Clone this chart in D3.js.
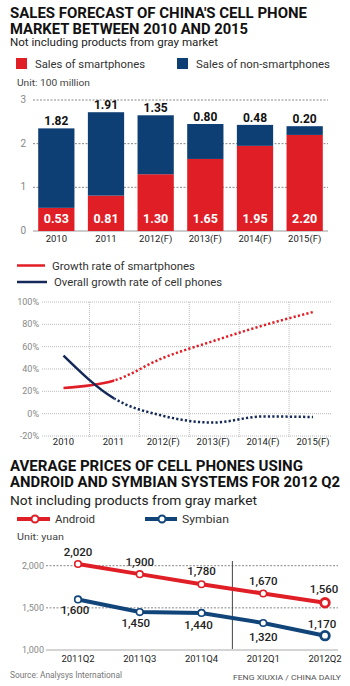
<!DOCTYPE html>
<html>
<head>
<meta charset="utf-8">
<script src="https://cdn.jsdelivr.net/npm/d3@7"></script>
<style>
  body { margin: 0; background: #fff; }
  svg { display: block; font-family: Roboto, "Liberation Sans", Arial, sans-serif; }
  .title { font-weight: 700; font-size: 14px; fill: #111; }
  .tick-y { font-size: 9px; fill: #888; }
  .tick-x { font-size: 9.5px; fill: #222; }
</style>
</head>
<body>
<div id="chart"></div>
<script>
// ---- data ----
const years = ["2010", "2011", "2012(F)", "2013(F)", "2014(F)", "2015(F)"];
const smartSales = [0.53, 0.81, 1.30, 1.65, 1.95, 2.20];
const otherSales = [1.82, 1.91, 1.35, 0.80, 0.48, 0.20];
const barTicks = [0, 1, 2, 3];

const smartGrowth = [23, 29.5, 50, 65, 79, 91];
const overallGrowth = [52, 14, -2, -8, -2.5, -3];
const growthTicks = [-20, 0, 20, 40, 60, 80, 100];

const quarters = ["2011Q2", "2011Q3", "2011Q4", "2012Q1", "2012Q2"];
const android = [2020, 1900, 1780, 1670, 1560];
const symbian = [1600, 1450, 1440, 1320, 1170];
const priceTicks = [1000, 1500, 2000];

const red = "#e01e26";
const barBlue = "#0d3f75";
const navy = "#14295a";
const priceBlue = "#11457a";

const svg = d3.select("#chart").append("svg")
    .attr("width", 350)
    .attr("height", 686);

function fitText(sel, x, y, txt, len, cls) {
    return sel.append("text").attr("x", x).attr("y", y).attr("class", cls || null)
        .attr("textLength", len).attr("lengthAdjust", "spacingAndGlyphs").text(txt);
}

// ---- header 1 ----
fitText(svg, 10, 17.5, "SALES FORECAST OF CHINA'S CELL PHONE", 297, "title");
fitText(svg, 10, 34, "MARKET BETWEEN 2010 AND 2015", 238, "title");
fitText(svg, 10, 46, "Not including products from gray market", 208).style("font-size", "11px").attr("fill", "#222");

svg.append("rect").attr("x", 16).attr("y", 58).attr("width", 11).attr("height", 11).attr("fill", red);
fitText(svg, 35, 68, "Sales of smartphones", 110).style("font-size", "11px").attr("fill", "#333");
svg.append("rect").attr("x", 177).attr("y", 58).attr("width", 11).attr("height", 11).attr("fill", barBlue);
fitText(svg, 196, 68, "Sales of non-smartphones", 134).style("font-size", "11px").attr("fill", "#333");
fitText(svg, 17, 86, "Unit: 100 million", 73).style("font-size", "9px").attr("fill", "#444");

// ---- bar chart ----
const x1 = d3.scaleBand().domain(years).range([31.5, 329.5]).paddingInner(0.27).paddingOuter(0.135);
const y1 = d3.scaleLinear().domain([0, 3]).range([231, 100]);

const g1 = svg.append("g");
g1.selectAll(".grid1").data(barTicks).join("line")
    .attr("x1", 33).attr("x2", 328)
    .attr("y1", d => y1(d)).attr("y2", d => y1(d))
    .attr("stroke", d => d === 0 ? "#999" : "#555")
    .attr("stroke-width", d => d === 0 ? 1 : 0.7)
    .attr("stroke-dasharray", d => d === 0 ? null : "2,1.5");
g1.selectAll(".ty1").data(barTicks).join("text")
    .attr("class", "tick-y").attr("x", 26).attr("y", d => y1(d) + 3)
    .attr("text-anchor", "end").style("font-size", "10px").text(d => d);

g1.selectAll(".smart").data(years).join("rect")
    .attr("x", d => x1(d)).attr("width", x1.bandwidth())
    .attr("y", (d, i) => y1(smartSales[i]))
    .attr("height", (d, i) => y1(0) - y1(smartSales[i]))
    .attr("fill", red);
g1.selectAll(".other").data(years).join("rect")
    .attr("x", d => x1(d)).attr("width", x1.bandwidth())
    .attr("y", (d, i) => y1(smartSales[i] + otherSales[i]))
    .attr("height", (d, i) => y1(smartSales[i]) - y1(smartSales[i] + otherSales[i]))
    .attr("fill", barBlue);

g1.selectAll(".lblTop").data(years).join("text")
    .attr("x", d => x1(d) + x1.bandwidth() / 2)
    .attr("y", (d, i) => y1(smartSales[i] + otherSales[i]) - 3)
    .attr("text-anchor", "middle").style("font-size", "12px").style("font-weight", 700)
    .attr("fill", "#111").text((d, i) => otherSales[i].toFixed(2));
g1.selectAll(".lblIn").data(years).join("text")
    .attr("x", d => x1(d) + x1.bandwidth() / 2)
    .attr("y", 223)
    .attr("text-anchor", "middle").style("font-size", "12.5px").style("font-weight", 700)
    .attr("fill", "#fff").text((d, i) => smartSales[i].toFixed(2));
g1.selectAll(".tx1").data(years).join("text")
    .attr("class", "tick-x").attr("x", d => x1(d) + x1.bandwidth() / 2).attr("y", 242)
    .attr("text-anchor", "middle").text(d => d);

// ---- growth chart ----
svg.append("line").attr("x1", 17).attr("x2", 45).attr("y1", 265.5).attr("y2", 265.5)
    .attr("stroke", red).attr("stroke-width", 2.5);
fitText(svg, 52, 270, "Growth rate of smartphones", 143).style("font-size", "11px").attr("fill", "#333");
svg.append("line").attr("x1", 17).attr("x2", 47).attr("y1", 282).attr("y2", 282)
    .attr("stroke", navy).attr("stroke-width", 2.5);
fitText(svg, 54, 286, "Overall growth rate of cell phones", 168).style("font-size", "11px").attr("fill", "#333");

const x2 = d3.scalePoint().domain(years).range([63.5, 313]);
const y2 = d3.scaleLinear().domain([-20, 100]).range([436, 302]);
const g2 = svg.append("g");

g2.selectAll(".gh").data(growthTicks).join("line")
    .attr("x1", 42).attr("x2", 331)
    .attr("y1", d => y2(d)).attr("y2", d => y2(d))
    .attr("stroke", "#aaa").attr("stroke-width", 0.8).attr("stroke-dasharray", "1,1");
const mids = years.slice(1).map((d, i) => (x2(years[i]) + x2(d)) / 2 + 1);
g2.selectAll(".gv").data(mids).join("line")
    .attr("x1", d => d).attr("x2", d => d)
    .attr("y1", y2(100)).attr("y2", y2(-20) + 2)
    .attr("stroke", "#aaa").attr("stroke-width", 0.8).attr("stroke-dasharray", "1,1");
g2.selectAll(".ty2").data(growthTicks).join("text")
    .attr("class", "tick-y").attr("x", 39).attr("y", d => y2(d) + 3)
    .attr("text-anchor", "end").text(d => d + "%");
g2.selectAll(".tx2").data(years).join("text")
    .attr("class", "tick-x").attr("x", d => x2(d)).attr("y", 445)
    .attr("text-anchor", "middle").text(d => d);

const defs = svg.append("defs");
const splitX = x2("2011");
defs.append("clipPath").attr("id", "solidPart").append("rect")
    .attr("x", 0).attr("y", 280).attr("width", splitX + 1).attr("height", 180);
defs.append("clipPath").attr("id", "dotPart").append("rect")
    .attr("x", splitX + 1).attr("y", 280).attr("width", 350).attr("height", 180);

const line2 = d3.line().x((d, i) => x2(years[i])).y(d => y2(d)).curve(d3.curveMonotoneX);
[[smartGrowth, red], [overallGrowth, navy]].forEach(([vals, col]) => {
    g2.append("path").attr("d", line2(vals)).attr("fill", "none")
        .attr("stroke", col).attr("stroke-width", 2.5).attr("clip-path", "url(#solidPart)");
    g2.append("path").attr("d", line2(vals)).attr("fill", "none")
        .attr("stroke", col).attr("stroke-width", 2.5).attr("stroke-dasharray", "2.2,2.2")
        .attr("clip-path", "url(#dotPart)");
});

// ---- header 2 ----
fitText(svg, 10, 470.5, "AVERAGE PRICES OF CELL PHONES USING", 293, "title");
fitText(svg, 10, 487, "ANDROID AND SYMBIAN SYSTEMS FOR 2012 Q2", 330, "title");
fitText(svg, 10, 505, "Not including products from gray market", 247).style("font-size", "13px").attr("fill", "#222");

svg.append("line").attr("x1", 17).attr("x2", 50).attr("y1", 519).attr("y2", 519)
    .attr("stroke", red).attr("stroke-width", 4);
svg.append("circle").attr("cx", 35).attr("cy", 519).attr("r", 3.5)
    .attr("fill", "#fff").attr("stroke", red).attr("stroke-width", 2);
fitText(svg, 55, 523, "Android", 40).style("font-size", "11px").attr("fill", "#333");
svg.append("line").attr("x1", 145).attr("x2", 177).attr("y1", 519).attr("y2", 519)
    .attr("stroke", priceBlue).attr("stroke-width", 4);
svg.append("circle").attr("cx", 162).attr("cy", 519).attr("r", 3.5)
    .attr("fill", "#fff").attr("stroke", priceBlue).attr("stroke-width", 2);
fitText(svg, 182, 523, "Symbian", 47).style("font-size", "11px").attr("fill", "#333");
fitText(svg, 17, 540, "Unit: yuan", 47).style("font-size", "9px").attr("fill", "#444");

// ---- price chart ----
const x3 = d3.scalePoint().domain(quarters).range([78, 325]);
const y3 = d3.scaleLinear().domain([1000, 2000]).range([650, 565.7]);
const g3 = svg.append("g");

g3.selectAll(".gp").data(priceTicks).join("line")
    .attr("x1", 46).attr("x2", 338)
    .attr("y1", d => y3(d)).attr("y2", d => y3(d))
    .attr("stroke", d => d === 1000 ? "#aaa" : "#555")
    .attr("stroke-width", d => d === 1000 ? 1 : 0.7)
    .attr("stroke-dasharray", d => d === 1000 ? null : "2,1.5");
g3.selectAll(".ty3").data(priceTicks).join("text")
    .attr("class", "tick-y").attr("x", 44).attr("y", d => y3(d) + 3)
    .attr("text-anchor", "end").text(d => d3.format(",")(d));
const splitQ = (x3("2011Q4") + x3("2012Q1")) / 2;
g3.append("line").attr("x1", splitQ).attr("x2", splitQ)
    .attr("y1", 561).attr("y2", 649).attr("stroke", "#444").attr("stroke-width", 1);
g3.selectAll(".tx3").data(quarters).join("text")
    .attr("class", "tick-x").attr("x", d => x3(d)).attr("y", 662)
    .attr("text-anchor", "middle").text(d => d);

const line3 = d3.line().x((d, i) => x3(quarters[i])).y(d => y3(d));
const last = quarters.length - 1;
[[android, red], [symbian, priceBlue]].forEach(([vals, col]) => {
    g3.append("path").attr("d", line3(vals)).attr("fill", "none")
        .attr("stroke", col).attr("stroke-width", 4);
    g3.selectAll(null).data(vals).join("circle")
        .attr("cx", (d, i) => x3(quarters[i])).attr("cy", d => y3(d))
        .attr("r", (d, i) => i === last ? 4.3 : 3.3)
        .attr("fill", "#fff").attr("stroke", col)
        .attr("stroke-width", (d, i) => i === last ? 2.8 : 1.6);
});

const fmt = d3.format(",");
const andDy = [-8, -8, -9, -9, -10];
const symDy = [15, 15, 16, 18, -8];
const symDx = [-3, -4, -3, 0, -3];
g3.selectAll(".la").data(android).join("text")
    .attr("x", (d, i) => x3(quarters[i]) + (i === last ? -1 : 0))
    .attr("y", (d, i) => y3(d) + andDy[i])
    .attr("text-anchor", "middle").style("font-size", "11.5px").style("font-weight", 500)
    .attr("fill", "#222").text(d => fmt(d));
g3.selectAll(".ls").data(symbian).join("text")
    .attr("x", (d, i) => x3(quarters[i]) + symDx[i])
    .attr("y", (d, i) => y3(d) + symDy[i])
    .attr("text-anchor", "middle").style("font-size", "11.5px").style("font-weight", 500)
    .attr("fill", "#222").text(d => fmt(d));

// ---- footer ----
fitText(svg, 10, 678, "Source: Analysys International", 112).style("font-size", "8.5px").attr("fill", "#777");
fitText(svg, 233, 680, "FENG XIUXIA / CHINA DAILY", 108).style("font-size", "8px").attr("fill", "#555");
</script>
</body>
</html>
